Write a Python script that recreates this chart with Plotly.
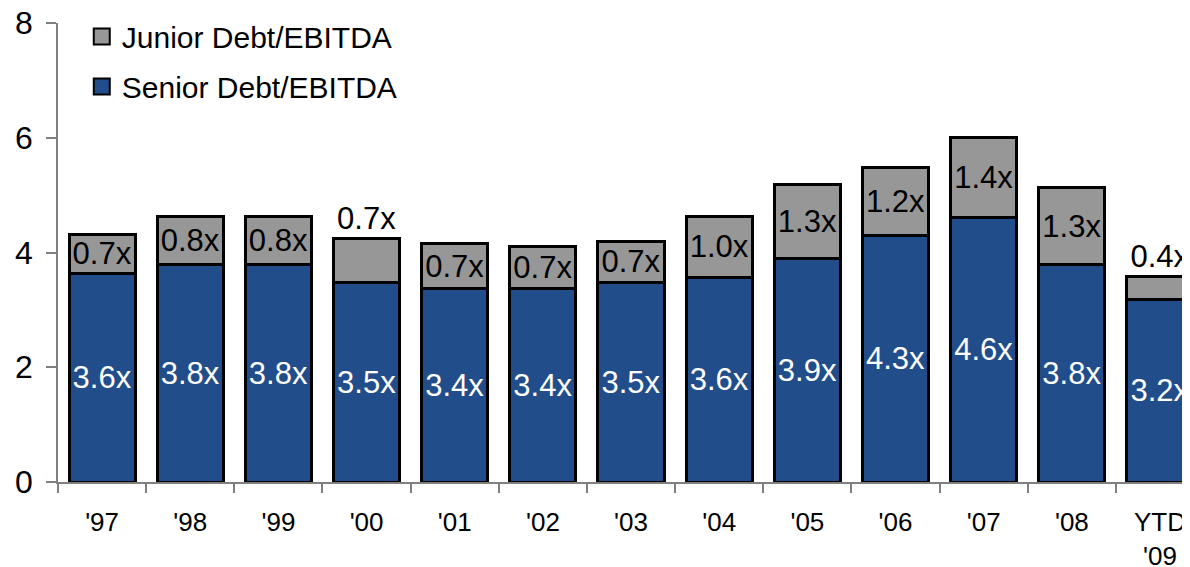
import plotly.graph_objects as go

categories = ["'97", "'98", "'99", "'00", "'01", "'02", "'03", "'04", "'05", "'06", "'07", "'08", "YTD<br>'09"]
senior = [3.64, 3.79, 3.79, 3.48, 3.37, 3.37, 3.47, 3.57, 3.90, 4.30, 4.61, 3.79, 3.18]
junior = [0.67, 0.83, 0.83, 0.76, 0.78, 0.74, 0.73, 1.06, 1.29, 1.19, 1.40, 1.34, 0.40]
senior_labels = ["3.6x", "3.8x", "3.8x", "3.5x", "3.4x", "3.4x", "3.5x", "3.6x", "3.9x", "4.3x", "4.6x", "3.8x", "3.2x"]
junior_labels = ["0.7x", "0.8x", "0.8x", "0.7x", "0.7x", "0.7x", "0.7x", "1.0x", "1.3x", "1.2x", "1.4x", "1.3x", "0.4x"]
junior_outside = [False, False, False, True, False, False, False, False, False, False, False, False, True]
y_ticks = [0, 2, 4, 6, 8]

FONT = "Liberation Sans, Arial, sans-serif"
SENIOR_COLOR = "#214D8B"
JUNIOR_COLOR = "#979797"

fig = go.Figure()
fig.add_trace(go.Bar(
    x=categories, y=senior, name="Senior Debt/EBITDA", showlegend=False,
    marker=dict(color=SENIOR_COLOR, line=dict(color="black", width=3)),
    text=senior_labels, textposition="inside", insidetextanchor="middle", textangle=0,
    textfont=dict(color="white", size=31, family=FONT),
    hoverinfo="skip",
))
fig.add_trace(go.Bar(
    x=categories, y=junior, name="Junior Debt/EBITDA", showlegend=False,
    marker=dict(color=JUNIOR_COLOR, line=dict(color="black", width=3)),
    text=junior_labels,
    textposition=["outside" if o else "inside" for o in junior_outside],
    insidetextanchor="middle", textangle=0,
    textfont=dict(color="black", size=31, family=FONT),
    hoverinfo="skip", cliponaxis=False,
))
# legend entries (square swatches)
fig.add_trace(go.Scatter(
    x=[None], y=[None], mode="markers", name="Junior Debt/EBITDA", legendrank=1,
    marker=dict(symbol="square", size=16, color=JUNIOR_COLOR, line=dict(color="black", width=2)),
    legendgroup="j", hoverinfo="skip",
))
fig.add_trace(go.Scatter(
    x=[None], y=[None], mode="markers", name="Senior Debt/EBITDA", legendrank=2,
    marker=dict(symbol="square", size=16, color=SENIOR_COLOR, line=dict(color="black", width=2)),
    legendgroup="s", hoverinfo="skip",
))

# page body has an 8px default margin: figure is sized/offset to compensate
fig.update_layout(
    width=1182, height=559,
    margin=dict(l=50, r=0, t=15, b=85),
    barmode="stack", bargap=0.25,
    plot_bgcolor="white", paper_bgcolor="white",
    font=dict(family=FONT, color="black"),
    uniformtext=dict(minsize=31, mode="show"),
    showlegend=True,
    legend=dict(
        x=0.021, y=1.027, xanchor="left", yanchor="top",
        traceorder="grouped", tracegroupgap=8, itemsizing="trace",
        font=dict(size=30, family=FONT, color="black"),
        bgcolor="rgba(0,0,0,0)",
    ),
    xaxis=dict(
        range=[-0.5, 12.34], showgrid=False, showline=True, linecolor="#808080", linewidth=1.5,
        ticks="outside", tickson="boundaries", ticklen=9, tickcolor="#808080", tickwidth=1.5,
        tickfont=dict(size=26, family=FONT, color="black"), ticklabelstandoff=16,
        ticklabeloverflow="allow", automargin=False,
    ),
    yaxis=dict(
        range=[0, 8], tickvals=y_ticks, showgrid=False, zeroline=False,
        showline=True, linecolor="#808080", linewidth=1.5,
        ticks="outside", ticklen=10, tickcolor="#808080", tickwidth=1.5,
        tickfont=dict(size=32, family=FONT, color="black"), ticklabelstandoff=7,
        ticklabeloverflow="allow", automargin=False,
    ),
)

fig.write_html("out.html")
